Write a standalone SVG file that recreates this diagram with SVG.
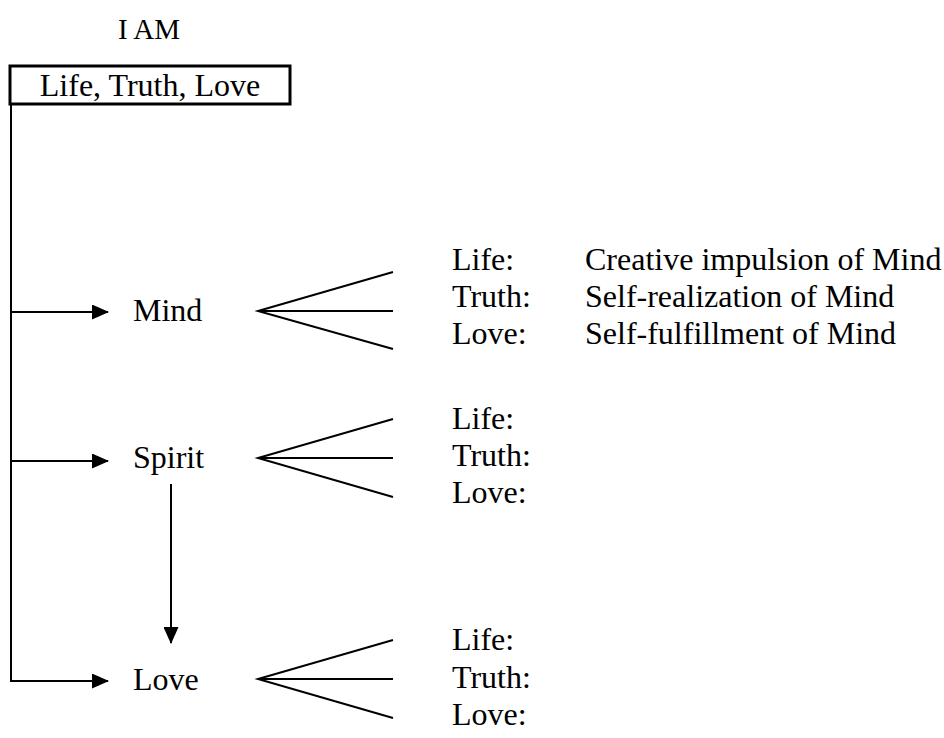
<svg xmlns="http://www.w3.org/2000/svg" width="944" height="738" viewBox="0 0 944 738">
<style>
text{font-family:"Liberation Serif","Times New Roman",serif;font-size:32px;fill:#000}
.ln{stroke:#000;stroke-width:2;fill:none}
</style>
<defs>
<marker id="ah" viewBox="0 0 17 15" refX="16" refY="7.5" markerWidth="17" markerHeight="15" markerUnits="userSpaceOnUse" orient="auto">
<path d="M0,0 L17,7.5 L0,15 Z" fill="#000"/>
</marker>
</defs>
<rect width="944" height="738" fill="#fff"/>
<g id="title"><text x="118" y="39" style="font-size:29px">I AM</text></g>
<g id="root">
<rect x="10" y="66" width="280" height="38" fill="#fff" stroke="#000" stroke-width="3"/>
<text x="150" y="96" text-anchor="middle">Life, Truth, Love</text>
</g>
<g id="connectors">
<line class="ln" x1="11" y1="104" x2="11" y2="682"/>
<line class="ln" x1="11" y1="312" x2="108" y2="312" marker-end="url(#ah)"/>
<line class="ln" x1="11" y1="461" x2="108" y2="461" marker-end="url(#ah)"/>
<line class="ln" x1="11" y1="681" x2="108" y2="681" marker-end="url(#ah)"/>
<line class="ln" x1="171" y1="484" x2="171" y2="643" marker-end="url(#ah)"/>
<path class="ln" d="M393,272 L258,311 L393,349 M258,311 H393"/>
<path class="ln" d="M393,419 L258,458 L393,497 M258,458 H393"/>
<path class="ln" d="M393,640 L258,679 L393,718 M258,679 H393"/>
</g>
<g id="mind">
<text x="133" y="321">Mind</text>
<text x="452" y="270">Life:</text>
<text x="452" y="307">Truth:</text>
<text x="452" y="344">Love:</text>
<text x="585" y="270">Creative impulsion of Mind</text>
<text x="585" y="307">Self-realization of Mind</text>
<text x="585" y="344">Self-fulfillment of Mind</text>
</g>
<g id="spirit">
<text x="133" y="468">Spirit</text>
<text x="452" y="429">Life:</text>
<text x="452" y="466">Truth:</text>
<text x="452" y="503">Love:</text>
</g>
<g id="love">
<text x="133" y="690">Love</text>
<text x="452" y="650">Life:</text>
<text x="452" y="688">Truth:</text>
<text x="452" y="725">Love:</text>
</g>
</svg>
